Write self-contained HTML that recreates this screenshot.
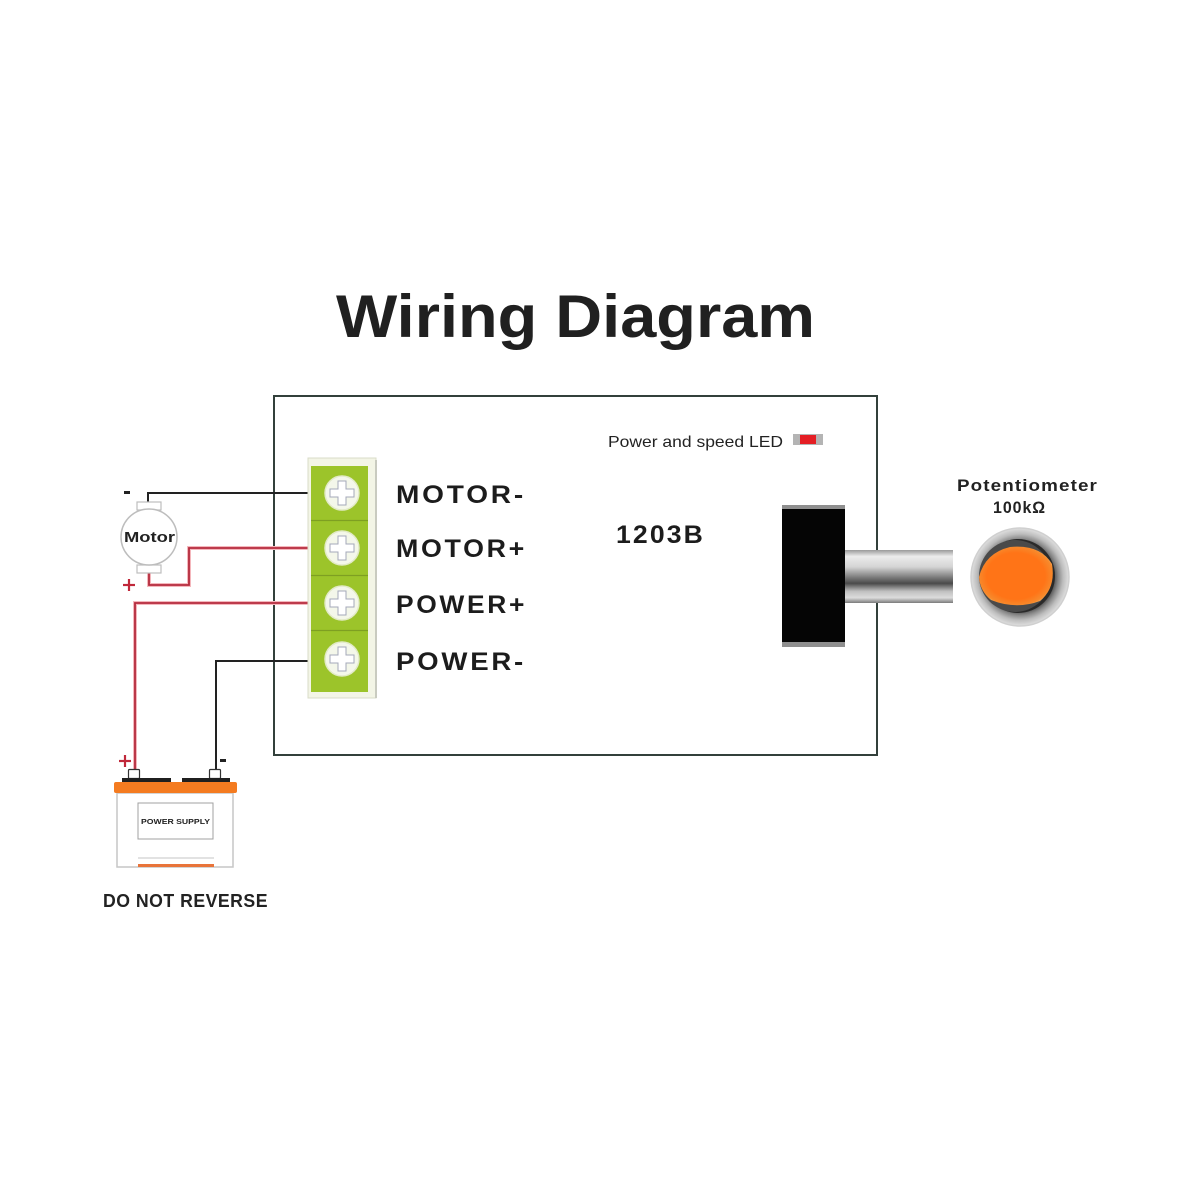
<!DOCTYPE html>
<html>
<head>
<meta charset="utf-8">
<style>
  html,body{margin:0;padding:0;background:#ffffff;}
  svg{display:block;}
  text{font-family:"Liberation Sans", sans-serif;}
</style>
</head>
<body>
<svg width="1200" height="1200" viewBox="0 0 1200 1200" xmlns="http://www.w3.org/2000/svg">
  <defs>
    <linearGradient id="shaft" x1="0" y1="0" x2="0" y2="1">
      <stop offset="0" stop-color="#9a9a9a"/>
      <stop offset="0.12" stop-color="#ececec"/>
      <stop offset="0.32" stop-color="#d4d4d4"/>
      <stop offset="0.52" stop-color="#7a7a7a"/>
      <stop offset="0.63" stop-color="#4a4a4a"/>
      <stop offset="0.78" stop-color="#c0c0c0"/>
      <stop offset="0.9" stop-color="#dcdcdc"/>
      <stop offset="1" stop-color="#7a7a7a"/>
    </linearGradient>
    <radialGradient id="ring" cx="0.5" cy="0.5" r="0.5">
      <stop offset="0.7" stop-color="#555"/>
      <stop offset="0.78" stop-color="#8a8a8a"/>
      <stop offset="0.88" stop-color="#bdbdbd"/>
      <stop offset="1" stop-color="#e0e0e0"/>
    </radialGradient>
    <radialGradient id="orange" cx="0.5" cy="0.5" r="0.55">
      <stop offset="0.72" stop-color="#ff7417"/>
      <stop offset="0.92" stop-color="#f78a2c"/>
      <stop offset="1" stop-color="#f3b060"/>
    </radialGradient>
  </defs>

  <!-- Title -->
  <text x="336" y="337" font-size="60" font-weight="bold" fill="#202020" textLength="479" lengthAdjust="spacingAndGlyphs">Wiring Diagram</text>

  <!-- Main board box -->
  <rect x="274" y="396" width="603" height="359" fill="#ffffff" stroke="#33403b" stroke-width="2"/>

  <!-- Wires -->
  <g fill="none" stroke-linejoin="miter">
    <path d="M309,493 H148 V503" stroke="#222" stroke-width="2"/>
    <path d="M309,661 H216 V770" stroke="#222" stroke-width="2"/>
    <path d="M309,548 H189 V585 H149 V573" stroke="#f4b7bc" stroke-width="4"/>
    <path d="M309,548 H189 V585 H149 V573" stroke="#b52a3c" stroke-width="1.8"/>
    <path d="M309,603 H135 V770" stroke="#f4b7bc" stroke-width="4"/>
    <path d="M309,603 H135 V770" stroke="#b52a3c" stroke-width="1.8"/>
  </g>

  <!-- Terminal block -->
  <rect x="308" y="458" width="68" height="240" fill="#f3f5e6" stroke="#d9dcc8" stroke-width="1"/>
  <rect x="375" y="460" width="2" height="238" fill="#c9cbc0"/>
  <rect x="311" y="466" width="57" height="226" fill="#9cc42a"/>
  <g stroke="#7e9f22" stroke-width="1.2">
    <line x1="311" y1="520.5" x2="368" y2="520.5"/>
    <line x1="311" y1="575.5" x2="368" y2="575.5"/>
    <line x1="311" y1="630.5" x2="368" y2="630.5"/>
  </g>
  <g>
    <circle cx="342" cy="493" r="17" fill="#f4f7ea" stroke="#e2eac6" stroke-width="1.5"/>
    <circle cx="342" cy="548" r="17" fill="#f4f7ea" stroke="#e2eac6" stroke-width="1.5"/>
    <circle cx="342" cy="603" r="17" fill="#f4f7ea" stroke="#e2eac6" stroke-width="1.5"/>
    <circle cx="342" cy="659" r="17" fill="#f4f7ea" stroke="#e2eac6" stroke-width="1.5"/>
  </g>
  <g fill="#ffffff" stroke="#a4a8ba" stroke-width="1">
    <path d="M338,481 h8 v8 h8 v8 h-8 v8 h-8 v-8 h-8 v-8 h8 z"/>
    <path d="M338,536 h8 v8 h8 v8 h-8 v8 h-8 v-8 h-8 v-8 h8 z"/>
    <path d="M338,591 h8 v8 h8 v8 h-8 v8 h-8 v-8 h-8 v-8 h8 z"/>
    <path d="M338,647 h8 v8 h8 v8 h-8 v8 h-8 v-8 h-8 v-8 h8 z"/>
  </g>

  <!-- Terminal labels -->
  <g font-size="25" font-weight="bold" fill="#1c1c1c" letter-spacing="2.5">
    <text x="396" y="503" textLength="130" lengthAdjust="spacingAndGlyphs">MOTOR-</text>
    <text x="396" y="557" textLength="131" lengthAdjust="spacingAndGlyphs">MOTOR+</text>
    <text x="396" y="613" textLength="131" lengthAdjust="spacingAndGlyphs">POWER+</text>
    <text x="396" y="670" textLength="130" lengthAdjust="spacingAndGlyphs">POWER-</text>
    <text x="616" y="543" textLength="89" lengthAdjust="spacingAndGlyphs" letter-spacing="2">1203B</text>
  </g>

  <!-- LED label -->
  <text x="608" y="447" font-size="16" fill="#222" textLength="175" lengthAdjust="spacingAndGlyphs">Power and speed LED</text>
  <rect x="793" y="434" width="30" height="11" fill="#b4b4b4"/>
  <rect x="800" y="435" width="16" height="9" fill="#e41e24"/>

  <!-- Knob block -->
  <rect x="782" y="505" width="63" height="142" fill="#8f8f8f"/>
  <rect x="782" y="509" width="63" height="133" fill="#050505"/>

  <!-- Shaft -->
  <rect x="845" y="550" width="108" height="53" fill="url(#shaft)"/>

  <!-- Potentiometer -->
  <circle cx="1020" cy="577" r="49" fill="url(#ring)"/>
  <circle cx="1020" cy="577" r="49" fill="none" stroke="#d0d0d0" stroke-width="1.5"/>
  <circle cx="1018" cy="576" r="37" fill="#2a2a2a"/>
  <circle cx="1015" cy="576" r="36" fill="#4a4a4a"/>
  <path d="M979,577 Q985,553 1010,547 Q1040,544 1052,564 Q1056,588 1040,601 Q1016,610 991,600 Q980,591 979,577 Z" fill="url(#orange)"/>

  <text x="957" y="491" font-size="17" font-weight="bold" fill="#222" letter-spacing="1" textLength="141" lengthAdjust="spacingAndGlyphs">Potentiometer</text>
  <text x="993" y="513" font-size="17" font-weight="bold" fill="#222" letter-spacing="1" textLength="53" lengthAdjust="spacingAndGlyphs">100kΩ</text>

  <!-- Motor -->
  <rect x="137" y="502" width="24" height="8" fill="#fff" stroke="#bdbdbd" stroke-width="1.2"/>
  <rect x="137" y="565" width="24" height="8" fill="#fff" stroke="#bdbdbd" stroke-width="1.2"/>
  <circle cx="149" cy="537" r="28" fill="#ffffff" stroke="#bdbdbd" stroke-width="1.5"/>
  <text x="124" y="542" font-size="15" font-weight="bold" fill="#222" textLength="51" lengthAdjust="spacingAndGlyphs">Motor</text>
  <rect x="124" y="491" width="6" height="3" fill="#222"/>
  <g stroke="#c0283a" stroke-width="2.2">
    <line x1="123" y1="585" x2="135" y2="585"/>
    <line x1="129" y1="579" x2="129" y2="591"/>
  </g>

  <!-- Battery -->
  <g stroke="#c0283a" stroke-width="2.2">
    <line x1="119" y1="761" x2="131" y2="761"/>
    <line x1="125" y1="755" x2="125" y2="767"/>
  </g>
  <rect x="220" y="759" width="6" height="3" fill="#222"/>
  <rect x="128.5" y="769.5" width="11" height="9" fill="#fff" stroke="#333" stroke-width="1.2" rx="1"/>
  <rect x="209.5" y="769.5" width="11" height="9" fill="#fff" stroke="#333" stroke-width="1.2" rx="1"/>
  <rect x="122" y="778" width="49" height="5" fill="#1f1f1f"/>
  <rect x="182" y="778" width="48" height="5" fill="#1f1f1f"/>
  <rect x="117" y="793" width="116" height="74" fill="#ffffff" stroke="#c6c6c6" stroke-width="1.5"/>
  <rect x="114" y="782" width="123" height="11" rx="2" fill="#f47b20"/>
  <rect x="138" y="803" width="75" height="36" fill="#ffffff" stroke="#a0a0a0" stroke-width="1"/>
  <text x="141" y="824" font-size="7" font-weight="bold" fill="#222" textLength="69" lengthAdjust="spacingAndGlyphs">POWER SUPPLY</text>
  <line x1="138" y1="858" x2="214" y2="858" stroke="#e2e2e2" stroke-width="2"/>
  <rect x="138" y="864" width="76" height="3" fill="#e8743a"/>

  <text x="103" y="907" font-size="18" font-weight="bold" fill="#222" letter-spacing="0.5" textLength="165" lengthAdjust="spacingAndGlyphs">DO NOT REVERSE</text>
</svg>
</body>
</html>
